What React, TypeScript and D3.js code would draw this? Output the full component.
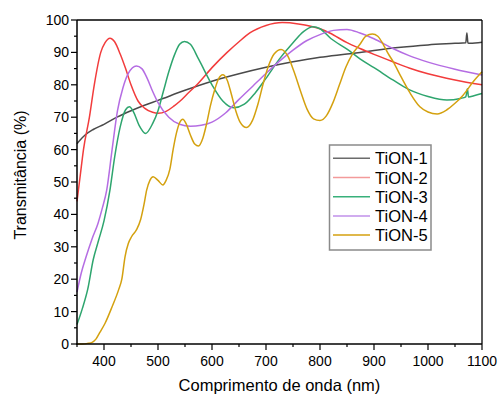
import React from "react";
import * as d3 from "d3";

const W = 498, H = 396;
const M = { left: 77, top: 20, right: 482, bottom: 344 };

const xTicks = [400, 500, 600, 700, 800, 900, 1000, 1100];
const yTicks = [0, 10, 20, 30, 40, 50, 60, 70, 80, 90, 100];

const tion1: [number, number][] = [
  [350, 61.8], [355, 62.8], [365, 64.5], [380, 66.2], [400, 67.8], [425, 70.1], [450, 72], [475, 73.7],
  [500, 75.2], [550, 78.3], [600, 81.1], [650, 83.4], [700, 85.4], [750, 87.1], [800, 88.5], [850, 89.5],
  [874, 90], [900, 90.6], [950, 91.6], [1000, 92.3], [1050, 92.8], [1070, 93.0], [1072, 96.0], [1074, 92.9],
  [1078, 92.8], [1100, 93.1],
];
const tion2: [number, number][] = [
  [350, 44], [356, 52], [362, 60], [373, 70], [382, 80], [394, 90], [402, 93], [411, 94.4], [420, 93.2],
  [430, 89.5], [440, 85], [450, 80], [463, 75], [475, 72.8], [490, 71.5], [500, 71.2], [515, 71.8],
  [530, 73.5], [541, 75], [555, 77.3], [572, 80], [600, 85.3], [628, 90], [650, 93.3], [670, 96],
  [700, 98.3], [730, 99.2], [760, 98.8], [800, 97.3], [818, 96], [850, 93], [874, 91.2], [900, 89.4],
  [935, 87.1], [965, 85.2], [1000, 83.4], [1050, 81.5], [1100, 80],
];
const tion3: [number, number][] = [
  [350, 6], [360, 11], [370, 17], [380, 26], [390, 32], [400, 38], [411, 47.5], [420, 58], [430, 67],
  [440, 72.3], [447, 73.2], [455, 71.5], [465, 67.5], [477, 65], [490, 68], [500, 72], [510, 78],
  [520, 84], [530, 89], [540, 92.5], [549, 93.4], [560, 92.5], [575, 88], [600, 80], [620, 75],
  [640, 72.9], [660, 74], [680, 77.5], [700, 82], [725, 88], [750, 93], [770, 96.5], [787, 97.9],
  [800, 97.3], [820, 94.3], [850, 91], [874, 88], [900, 85.3], [935, 81.5], [965, 78.5], [1000, 76.4],
  [1035, 75.3], [1060, 75.8], [1070, 76.3], [1073, 78.8], [1075, 76.2], [1085, 76.6], [1100, 77.3],
];
const tion4: [number, number][] = [
  [350, 16], [358, 22], [367, 27], [378, 32.5], [389, 37.3], [397, 42], [405, 47.5], [415, 60], [425, 72],
  [435, 79], [445, 83.5], [460, 85.8], [470, 85], [480, 82], [490, 78], [500, 74.5], [520, 70], [540, 67.8],
  [560, 67.2], [580, 67.5], [600, 68.5], [625, 71.3], [650, 75.5], [675, 79.5], [700, 83.5], [725, 87.3],
  [750, 90.7], [775, 93.6], [800, 95.5], [825, 96.8], [850, 97.1], [874, 96], [900, 94.2], [935, 91.2],
  [965, 89], [1000, 87], [1050, 84.8], [1100, 83],
];
const tion5: [number, number][] = [
  [350, 0], [360, 0], [370, 0.2], [378, 0.5], [385, 1.5], [392, 3.5], [402, 6.4], [415, 11.5], [427, 16.7],
  [433, 20], [439, 27], [445, 31], [451, 33.1], [460, 35.2], [468, 38.5], [474, 43], [479, 47.5], [485, 50.5],
  [491, 51.6], [500, 50.5], [509, 49.1], [515, 50.5], [522, 54], [528, 60], [534, 65], [540, 68.3],
  [546, 69.4], [552, 68], [560, 64.5], [568, 61.7], [575, 61.1], [583, 63.5], [590, 68], [597, 73.5],
  [605, 78.5], [612, 81.8], [620, 83.1], [628, 81.5], [636, 77], [644, 72], [652, 68.5], [664, 66.8],
  [675, 69], [685, 74], [695, 80.5], [705, 86], [715, 89.5], [728, 90.9], [740, 89], [752, 84], [764, 78],
  [776, 72.5], [788, 69.5], [800, 69], [812, 70.5], [824, 74.5], [836, 80], [848, 85.5], [860, 89.5],
  [874, 92.5], [885, 95], [897, 95.7], [907, 95], [917, 92.5], [926, 89.7], [936, 87], [950, 82.5],
  [967, 77.4], [985, 73.2], [1000, 71.6], [1017, 71], [1035, 72.3], [1050, 74.3], [1065, 76.8],
  [1084, 81], [1100, 84],
];

const seriesNames = ["TiON-1", "TiON-2", "TiON-3", "TiON-4", "TiON-5"];
const seriesData = [tion1, tion2, tion3, tion4, tion5];
const colors = ["#4a4a4a", "#f23c3c", "#2ea56e", "#b56de3", "#d4a10f"];
const legendColors = ["#6b6b6b", "#f39a9a", "#38b07a", "#c191ea", "#d4a10f"];

export default function App() {
  const x = d3.scaleLinear().domain([350, 1100]).range([M.left, M.right]);
  const y = d3.scaleLinear().domain([0, 100]).range([M.bottom, M.top]);
  const line = d3
    .line<[number, number]>()
    .x((d) => x(d[0]))
    .y((d) => y(d[1]))
    .curve(d3.curveMonotoneX);

  const xMinor = d3.range(350, 1101, 50);
  const yMinor = d3.range(0, 101, 5);
  const font = "'Liberation Sans', Arial, sans-serif";

  return (
    <svg width={W} height={H} style={{ position: "absolute", left: 0, top: 0, background: "#fff" }}
      fontFamily={font}>
      <rect x={0} y={0} width={W} height={H} fill="#fff" />
      {seriesData.map((s, i) => (
        <path key={seriesNames[i]} d={line(s) || ""} fill="none" stroke={colors[i]} strokeWidth={1.5} />
      ))}
      {/* frame */}
      <line x1={M.left} x2={M.right} y1={M.top} y2={M.top} stroke="#000" strokeWidth={1.3} />
      <line x1={M.right} x2={M.right} y1={M.top} y2={M.bottom} stroke="#000" strokeWidth={1.3} />
      <line x1={M.left} x2={M.left} y1={M.top} y2={M.bottom + 0.7} stroke="#000" strokeWidth={1.5} />
      <line x1={M.left - 0.7} x2={M.right} y1={M.bottom} y2={M.bottom} stroke="#000" strokeWidth={1.5} />
      {/* x ticks */}
      {xMinor.map((v) => (
        <line key={"xm" + v} x1={x(v)} x2={x(v)} y1={M.bottom} y2={M.bottom + (v % 100 === 0 ? 6 : 3)}
          stroke="#000" strokeWidth={1.2} />
      ))}
      {xTicks.map((v) => (
        <text key={"xt" + v} x={x(v)} y={M.bottom + 22} textAnchor="middle" fontSize={14} fill="#000">
          {v}
        </text>
      ))}
      {/* y ticks */}
      {yMinor.map((v) => (
        <line key={"ym" + v} x1={M.left} x2={M.left - (v % 10 === 0 ? 6 : 3)} y1={y(v)} y2={y(v)}
          stroke="#000" strokeWidth={1.2} />
      ))}
      {yTicks.map((v) => (
        <text key={"yt" + v} x={M.left - 8} y={y(v) + 5} textAnchor="end" fontSize={14} fill="#000">
          {v}
        </text>
      ))}
      <text x={(M.left + M.right) / 2} y={391} textAnchor="middle" fontSize={16.5} fill="#000">
        Comprimento de onda (nm)
      </text>
      <text transform={`translate(26, 175) rotate(-90)`} textAnchor="middle"
        fontSize={16} fill="#000">
        Transmitância (%)
      </text>
      {/* legend */}
      <rect x={329.5} y={145} width={101.5} height={105} fill="#fff" stroke="#8a8a8a" strokeWidth={1.5} />
      {seriesNames.map((n, i) => (
        <g key={"lg" + n}>
          <line x1={333} x2={370} y1={158.3 + i * 19.2} y2={158.3 + i * 19.2} stroke={legendColors[i]}
            strokeWidth={1.5} />
          <text x={375} y={158.3 + i * 19.2 + 6} fontSize={16.5} fill="#000">{n}</text>
        </g>
      ))}
    </svg>
  );
}
